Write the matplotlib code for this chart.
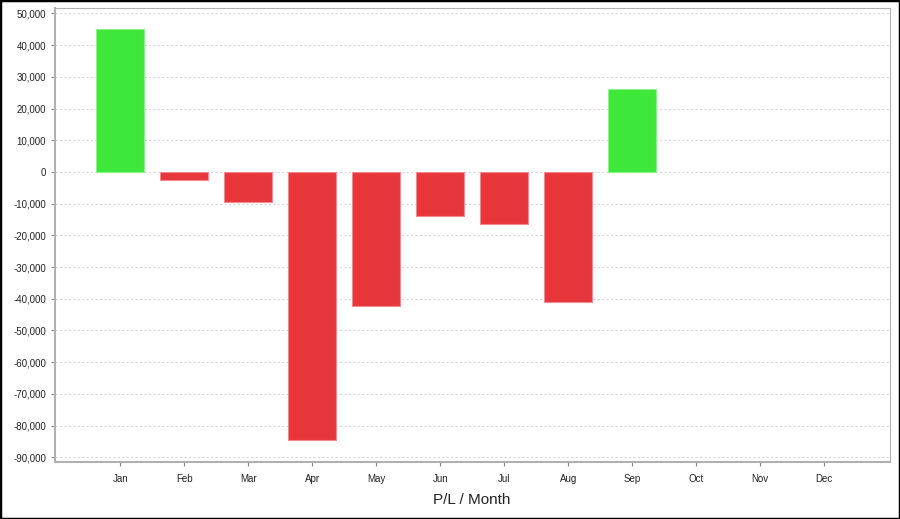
import numpy as np
import matplotlib.pyplot as plt
from matplotlib.patches import Rectangle
from matplotlib.ticker import FuncFormatter

# Monthly P/L (Oct-Dec have no trades yet)
months = ['Jan', 'Feb', 'Mar', 'Apr', 'May', 'Jun', 'Jul', 'Aug', 'Sep', 'Oct', 'Nov', 'Dec']
pl = [45100, -2700, -9400, -84500, -42300, -14000, -16300, -40900, 26100, 0, 0, 0]

plt.rcParams['font.family'] = ['Liberation Sans', 'DejaVu Sans']

fig = plt.figure(figsize=(9, 5.19), dpi=100)
ax = fig.add_axes([55 / 900, 1 - 461.7 / 519, 835 / 900, 453.7 / 519])

x = np.arange(len(months))
vals = np.array(pl, dtype=float)
has = vals != 0
colors = ['#3ee83b' if v > 0 else '#e7363c' for v in vals[has]]
edges = ['#8ef08c' if v > 0 else '#f08a8e' for v in vals[has]]
ax.bar(x[has], vals[has], width=0.75, color=colors, edgecolor=edges, linewidth=0.8, zorder=3)

ax.set_xlim(-1.02, 12.03)
ax.set_ylim(-91400, 51700)
ax.set_yticks(np.arange(-90000, 50001, 10000))
ax.yaxis.set_major_formatter(FuncFormatter(lambda v, p: f'{int(v):,}'))
ax.set_xticks(x)
ax.set_xticklabels(months)

ax.grid(axis='y', color='#d8d8d8', linestyle=(0, (2, 2)), linewidth=0.8, zorder=0)
for s in ax.spines.values():
    s.set_color('#b0b0b0')
ax.spines['left'].set_linewidth(1.5)
ax.spines['bottom'].set_linewidth(1.5)
ax.tick_params(axis='both', labelsize=7, colors='#888888', labelcolor='#222222', length=3)
ax.tick_params(axis='x', pad=6)

fig.text(472 / 900, 1 - 500 / 519, 'P/L / Month', ha='center', va='center', fontsize=11, color='#222222')

fig.patches.append(Rectangle((0, 0), 1, 1, transform=fig.transFigure, fill=False,
                             edgecolor='black', linewidth=2.5))

fig.savefig('out.png', dpi=100)
